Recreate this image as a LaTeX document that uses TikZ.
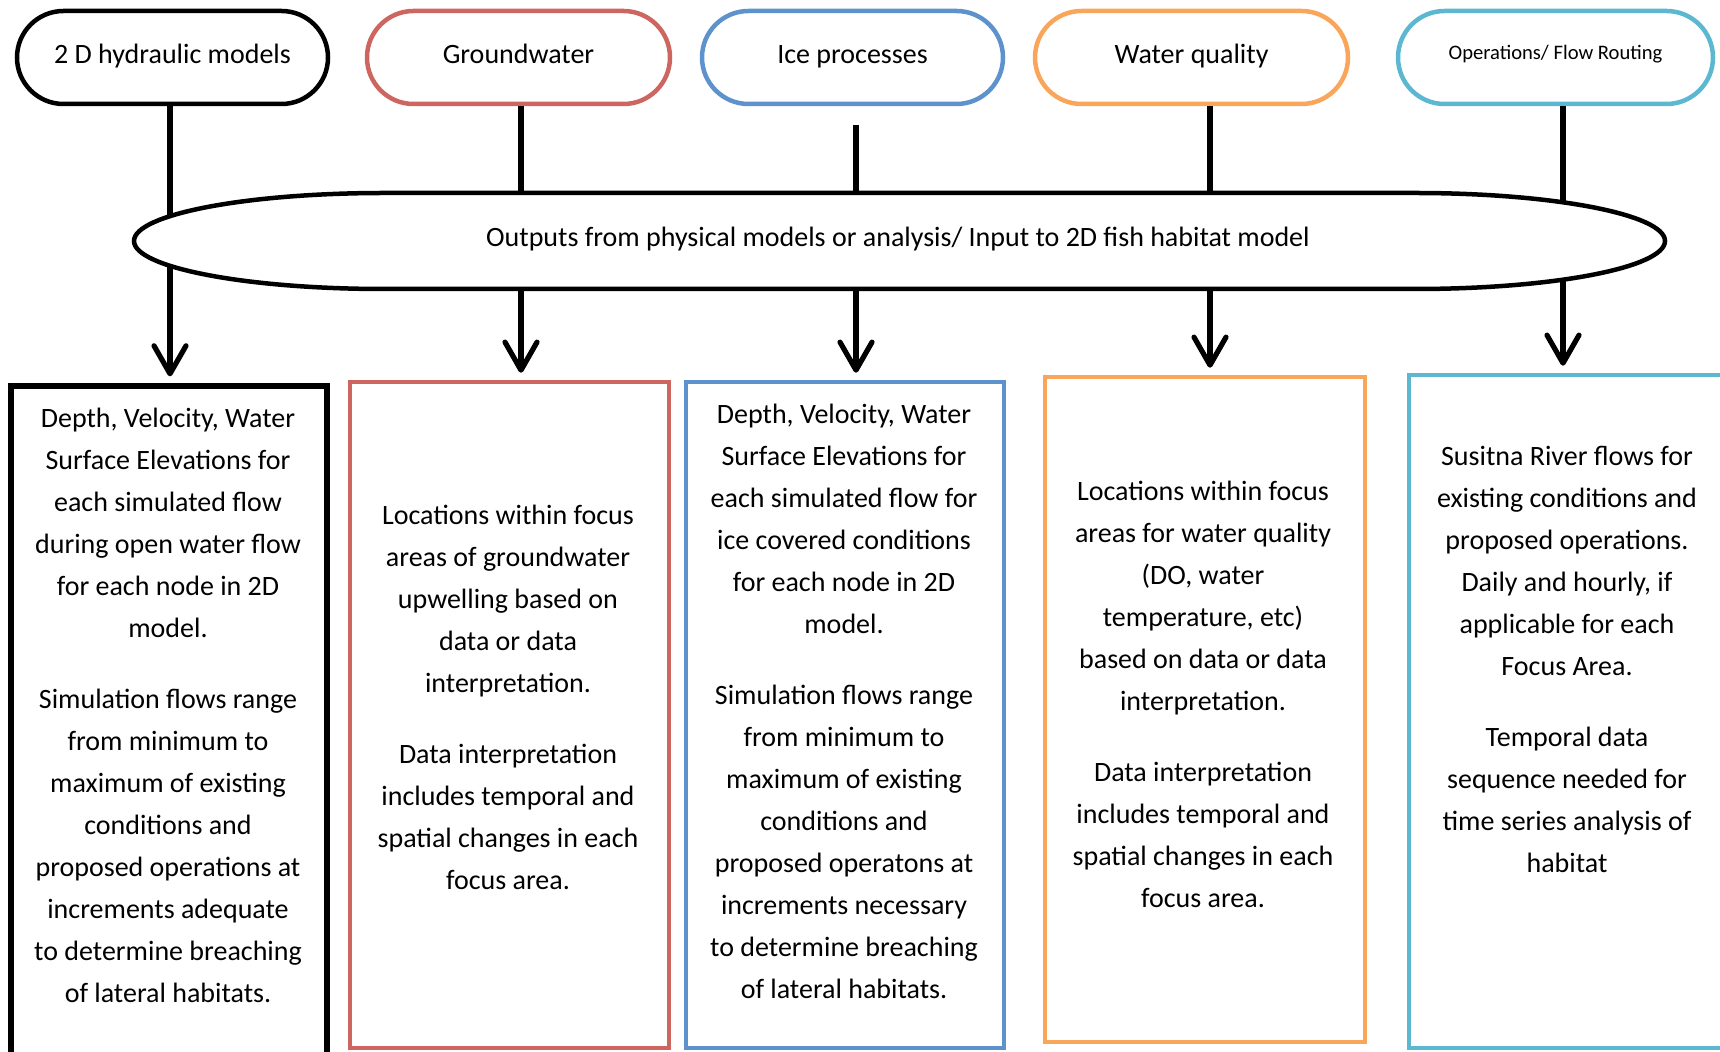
\documentclass[tikz,border=0pt]{standalone}
\usepackage{fontspec}
\setmainfont{Carlito}
\usetikzlibrary{shapes.misc,arrows.meta}

\definecolor{gwred}{RGB}{205,102,96}
\definecolor{iceblue}{RGB}{94,146,204}
\definecolor{wqorange}{RGB}{249,166,90}
\definecolor{opcyan}{RGB}{92,184,208}

\begin{document}
\begin{tikzpicture}[x=0.5pt,y=-0.5pt,line width=2.25pt,
    pill/.style={rounded rectangle,draw,fill=white,minimum height=46.5pt,inner sep=2pt,text height=1.6ex,text depth=.4ex,font=\fontsize{14}{17}\selectfont},
    body/.style={align=center,font=\fontsize{14}{21}\selectfont},
    link/.style={line width=2.6pt},
    arr/.style={link,-{Straight Barb[length=14pt,width=16pt,round]},shorten >=3.5pt}]

      \useasboundingbox (0,0) rectangle (1720,1052);
      \clip (0,0) rectangle (1720,1052);

      \coordinate (c1) at (170,0);
      \coordinate (c2) at (521,0);
      \coordinate (c3) at (856,0);
      \coordinate (c4) at (1210,0);
      \coordinate (c5) at (1563,0);

      \begin{scope}[every node/.style={pill}]
        \node[minimum width=159.5pt] (p1) at (172.5,57.5) {2 D hydraulic models};
        \node[draw=gwred,minimum width=155.5pt] (p2) at (518.5,57.5) {Groundwater};
        \node[draw=iceblue,minimum width=154.5pt] (p3) at (852.5,57.5) {Ice processes};
        \node[draw=wqorange,minimum width=160.5pt] (p4) at (1191.5,57.5) {Water quality};
        \node[draw=opcyan,minimum width=161.5pt,font=\fontsize{10.3}{12}\selectfont] (p5) at (1555.5,57.5) {\raisebox{2pt}{Operations/ Flow Routing}};
      \end{scope}

      \begin{scope}[every node/.style={draw,rectangle,inner sep=0pt}]
        \node[line width=2.6pt,minimum width=158pt,minimum height=347pt] (b1) at (169,733) {};
        \node[draw=gwred,minimum width=159.5pt,minimum height=333pt] (b2) at (509.5,715) {};
        \node[draw=iceblue,minimum width=159pt,minimum height=333pt] (b3) at (845,715) {};
        \node[draw=wqorange,minimum width=160pt,minimum height=332.5pt] (b4) at (1205,709.5) {};
        \node[draw=opcyan,minimum width=175.5pt,minimum height=336.5pt] (b5) at (1584.5,711.5) {};
      \end{scope}

      \node[minimum width=765.5pt,minimum height=48pt,outer sep=0pt] (out) at (899.5,241) {};

      \draw[link] (p1.south -| c1) -- (out.center -| c1);
      \draw[link] (p2.south -| c2) -- (out.center -| c2);
      \draw[link,shorten <=9.5pt] (p3.south -| c3) -- (out.center -| c3);
      \draw[link] (p4.south -| c4) -- (out.center -| c4);
      \draw[link] (p5.south -| c5) -- (out.center -| c5);

      \draw[arr] (out.center -| c1) -- (b1.north -| c1);
      \draw[arr] (out.center -| c2) -- (b2.north -| c2);
      \draw[arr] (out.center -| c3) -- (b3.north -| c3);
      \draw[arr] (out.center -| c4) -- (b4.north -| c4);
      \draw[arr] (out.center -| c5) -- (b5.north -| c5);

      \draw[fill=white] ([xshift=125pt]out.north west) -- ([xshift=-125pt]out.north east)
        arc[start angle=90,end angle=-90,x radius=125pt,y radius=24pt]
        -- ([xshift=125pt]out.south west)
        arc[start angle=270,end angle=90,x radius=125pt,y radius=24pt] -- cycle;
      \node[body] (outtext) at (898,239) {Outputs from physical models or analysis/ Input to 2D fish habitat model};

      \begin{scope}[every node/.style={body}]
        \node (t1) at (168,705) {Depth, Velocity, Water\\Surface Elevations for\\each simulated flow\\during open water flow\\for each node in 2D\\model.\\[14.5pt]
          Simulation flows range\\from minimum to\\maximum of existing\\conditions and\\proposed operations at\\increments adequate\\to determine breaching\\of lateral habitats.};
        \node (t2) at (508,697) {Locations within focus\\areas of groundwater\\upwelling based on\\data or data\\interpretation.\\[14.5pt]
          Data interpretation\\includes temporal and\\spatial changes in each\\focus area.};
        \node (t3) at (844,701) {Depth, Velocity, Water\\Surface Elevations for\\each simulated flow for\\ice covered conditions\\for each node in 2D\\model.\\[14.5pt]
          Simulation flows range\\from minimum to\\maximum of existing\\conditions and\\proposed operatons at\\increments necessary\\to determine breaching\\of lateral habitats.};
        \node (t4) at (1203,694) {Locations within focus\\areas for water quality\\(DO, water\\temperature, etc)\\based on data or data\\interpretation.\\[14.5pt]
          Data interpretation\\includes temporal and\\spatial changes in each\\focus area.};
        \node (t5) at (1567,659) {Susitna River flows for\\existing conditions and\\proposed operations.\\Daily and hourly, if\\applicable for each\\Focus Area.\\[14.5pt]
          Temporal data\\sequence needed for\\time series analysis of\\habitat};
      \end{scope}

    \end{tikzpicture}
\end{document}
